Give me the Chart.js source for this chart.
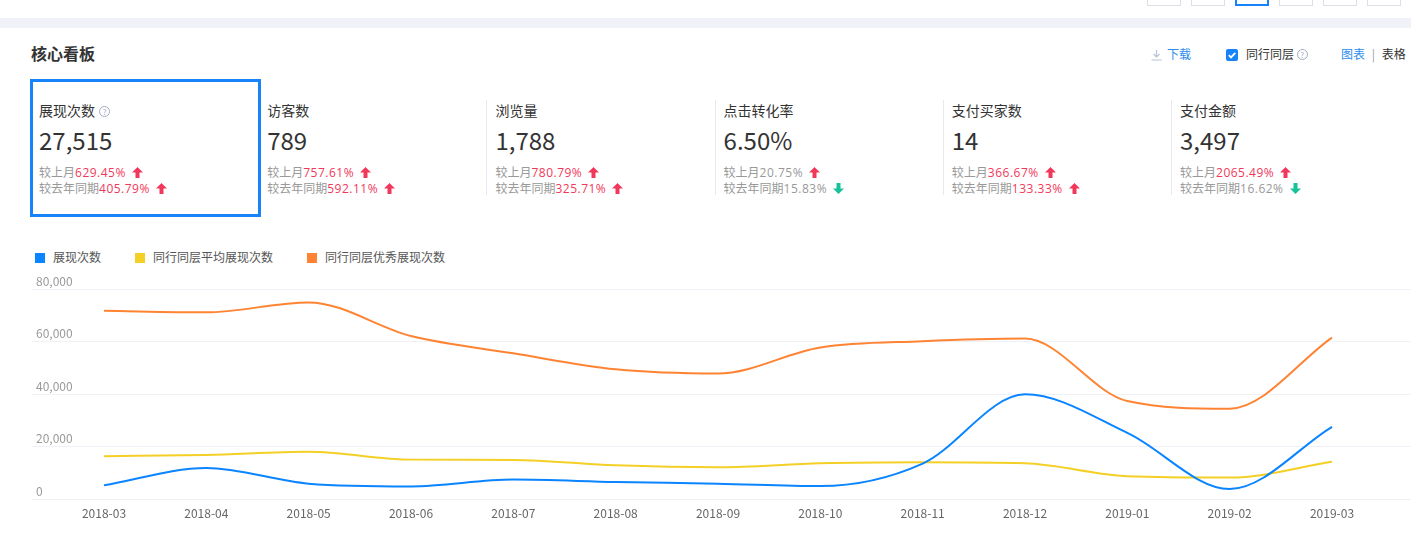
<!DOCTYPE html>
<html><head><meta charset="utf-8">
<script src="https://cdn.jsdelivr.net/npm/chart.js@4.4.1/dist/chart.umd.min.js"></script>
<style>
html,body{margin:0;padding:0;background:#fff;}
body{width:1411px;height:559px;position:relative;overflow:hidden;font-family:"Noto Sans CJK SC","Noto Sans",sans-serif;color:#333;}
.topbtn{position:absolute;top:-20px;width:34px;height:26px;border:1px solid #dcdfe6;background:#fff;box-sizing:border-box;}
.topbtn.on{border:2px solid #1683fb;}
.band{position:absolute;left:0;top:18px;width:1411px;height:10px;background:#f0f2f7;}
.title{position:absolute;left:31px;top:43px;font-size:16px;line-height:20px;font-weight:bold;color:#333;}
.hdr{position:absolute;top:46px;font-size:12px;line-height:16px;white-space:nowrap;}
.qicon{display:inline-block;width:9px;height:9px;border:1px solid #a3acc2;border-radius:50%;font-size:8px;line-height:9px;text-align:center;color:#a3acc2;vertical-align:1px;}
.klabel{position:absolute;top:101px;font-size:14px;line-height:18px;color:#333;white-space:nowrap;}
.kvalue{position:absolute;top:125px;font-size:24px;line-height:30px;color:#333;white-space:nowrap;}
.ksub{position:absolute;font-size:12px;line-height:16px;color:#999;white-space:nowrap;}
.ksub .n{font-family:"Open Sans","Noto Sans CJK SC",sans-serif;letter-spacing:0.5px;}
.ksub svg{vertical-align:-1px;margin-left:6px;}
.sep{position:absolute;top:100px;width:1px;height:95px;background:#e6e9ef;}
.sel{position:absolute;left:30px;top:79px;width:231px;height:138px;border:3px solid #1683fb;box-sizing:border-box;}
#legend{position:absolute;left:35px;top:250px;font-size:12px;line-height:14px;color:#555;white-space:nowrap;}
#legend .it{display:inline-block;margin-right:34px;}
#legend .sw{display:inline-block;width:10px;height:10px;margin-right:8px;vertical-align:-1px;}
#wrap{position:absolute;left:0;top:230px;width:1411px;height:310px;}
</style>
</head><body>
<div class="topbtn" style="left:1147px"></div>
<div class="topbtn" style="left:1191px"></div>
<div class="topbtn on" style="left:1235px"></div>
<div class="topbtn" style="left:1279px"></div>
<div class="topbtn" style="left:1323px"></div>
<div class="topbtn" style="left:1367px"></div>
<div class="band"></div>
<div class="title">核心看板</div>
<div class="hdr" style="left:1151px;color:#2d8cf0;"><svg width="11" height="12" viewBox="0 0 11 12" style="vertical-align:-2px;margin-right:5px"><path d="M5.5 1 V8 M2.5 5 L5.5 8 L8.5 5 M0.5 11 H10.5" stroke="#b8c2d6" stroke-width="1.2" fill="none"/></svg>下载</div>
<div class="hdr" style="left:1226px;color:#333;"><svg width="12" height="12" viewBox="0 0 12 12" style="vertical-align:-2px;margin-right:8px"><rect x="0" y="0" width="12" height="12" rx="2" fill="#1683fb"/><path d="M2.8 6.2 L5 8.4 L9.3 3.8" stroke="#fff" stroke-width="1.8" fill="none"/></svg>同行同层 <span class="qicon">?</span></div>
<div class="hdr" style="left:1341px;"><span style="color:#2d8cf0">图表</span><span style="color:#999;margin:0 4px"> | </span><span style="color:#333">表格</span></div>
<div id="cards"></div>
<div class="sel"></div>
<div id="legend"></div>
<div id="wrap"><canvas id="c"></canvas></div>
<script>
// KPI data
const kpiNames = ['展现次数','访客数','浏览量','点击转化率','支付买家数','支付金额'];
const kpiValues = ['27,515','789','1,788','6.50%','14','3,497'];
const momValues = ['629.45%','757.61%','780.79%','20.75%','366.67%','2065.49%'];
const momUp = [1,1,1,1,1,1];
const momRed = [1,1,1,0,1,1];
const yoyValues = ['405.79%','592.11%','325.71%','15.83%','133.33%','16.62%'];
const yoyUp = [1,1,1,0,1,0];
const yoyRed = [1,1,1,0,1,0];

// Chart data
const months = ['2018-03','2018-04','2018-05','2018-06','2018-07','2018-08','2018-09','2018-10','2018-11','2018-12','2019-01','2019-02','2019-03'];
const exposure = [5200, 11800, 5850, 4800, 7400, 6500, 5850, 4950, 13500, 39900, 25200, 3800, 27515];
const peerAvg = [16300, 16800, 18000, 15000, 14900, 12850, 12100, 13600, 14000, 13600, 8650, 8150, 14150];
const peerTop = [71700, 71100, 74900, 62100, 55500, 49400, 47800, 57700, 60100, 61100, 37300, 34400, 61500];
const yTicks = [0, 20000, 40000, 60000, 80000];

const RED = '#f2385a', GREEN = '#17c29a';
function arrow(up){
  const c = up ? RED : GREEN;
  const p = up ? '5.5,0 11,5.5 7.5,5.5 7.5,11 3.5,11 3.5,5.5 0,5.5' : '5.5,11 11,5.5 7.5,5.5 7.5,0 3.5,0 3.5,5.5 0,5.5';
  return '<svg width="11" height="11" viewBox="0 0 11 11"><polygon points="'+p+'" fill="'+c+'"/></svg>';
}
let html = '';
kpiNames.forEach((n,i)=>{
  const left = 39 + i*228.2;
  if (i >= 2) html += '<div class="sep" style="left:'+(Math.round(left)-9)+'px"></div>';
  html += '<div class="klabel" style="left:'+left+'px">'+n+(i===0?' <span class="qicon" style="margin-left:1px">?</span>':'')+'</div>';
  html += '<div class="kvalue" style="left:'+left+'px">'+kpiValues[i]+'</div>';
  html += '<div class="ksub" style="left:'+left+'px;top:164px">较上月<span class="n" style="color:'+(momRed[i]?RED:'#999')+'">'+momValues[i]+'</span>'+arrow(momUp[i])+'</div>';
  html += '<div class="ksub" style="left:'+left+'px;top:180px">较去年同期<span class="n" style="color:'+(yoyRed[i]?RED:'#999')+'">'+yoyValues[i]+'</span>'+arrow(yoyUp[i])+'</div>';
});
document.getElementById('cards').innerHTML = html;

const series = [
  {label:'展现次数', data: exposure, color:'#0a84ff'},
  {label:'同行同层平均展现次数', data: peerAvg, color:'#f4cf26'},
  {label:'同行同层优秀展现次数', data: peerTop, color:'#fe8433'}
];
document.getElementById('legend').innerHTML = series.map(s=>'<span class="it"><span class="sw" style="background:'+s.color+'"></span>'+s.label+'</span>').join('');

Chart.defaults.font.family = "'Noto Sans CJK SC', sans-serif";
Chart.defaults.font.size = 12;
Chart.defaults.color = '#999';

new Chart(document.getElementById('c'), {
  type: 'line',
  data: {
    datasets: series.map(s=>({
      label: s.label,
      data: s.data.map((v,i)=>({x:i, y:v})),
      borderColor: s.color,
      backgroundColor: s.color,
      borderWidth: 2,
      pointRadius: 0,
      cubicInterpolationMode: 'monotone',
      fill: false
    }))
  },
  options: {
    responsive: true,
    maintainAspectRatio: false,
    animation: false,
    layout: {padding: {left: 24, right: 0, top: 59, bottom: 12.6}},
    plugins: {legend: {display: false}, tooltip: {enabled: false}},
    scales: {
      x: {
        type: 'linear',
        min: -0.7036,
        max: 12.772,
        grid: {display: false, drawTicks: false},
        border: {display: false},
        afterBuildTicks: (axis) => { axis.ticks = months.map((m,i)=>({value:i})); },
        ticks: {
          autoSkip: false, maxRotation: 0, padding: 7, color: '#666',
          callback: (v) => months[v]
        }
      },
      y: {
        min: 0, max: 80000,
        afterBuildTicks: (axis) => { axis.ticks = yTicks.map(v=>({value:v})); },
        grid: {color: '#eff1f6', drawTicks: false, lineWidth: 1},
        border: {display: false},
        ticks: {
          mirror: true, padding: 4, labelOffset: -8, color: '#999',
          callback: (v) => v.toLocaleString('en-US')
        }
      }
    }
  }
});
</script>
</body></html>
